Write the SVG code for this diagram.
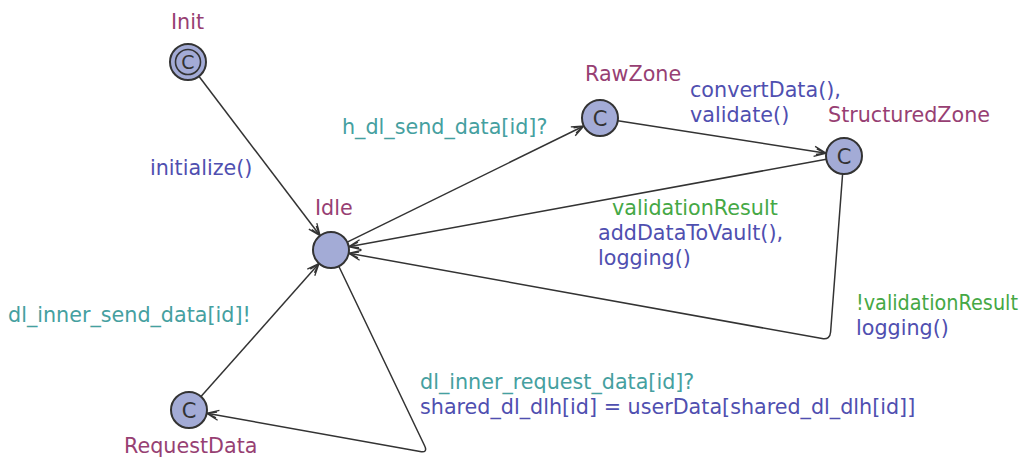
<svg xmlns="http://www.w3.org/2000/svg" width="1029" height="458" viewBox="0 0 1029 458">
<style>
text{font-family:"DejaVu Sans",sans-serif;font-size:20.7px}
.loc{fill:#a3abd6;stroke:#333;stroke-width:2}
.c{fill:#333;text-anchor:middle;font-size:21px}
.name{fill:#973f73}
.sync{fill:#45a0a0}
.upd{fill:#4f4fb0}
.grd{fill:#45a845}
.edge{fill:none;stroke:#333;stroke-width:1.5;marker-end:url(#arr)}
</style>
<defs>
<marker id="arr" markerWidth="16" markerHeight="12" refX="13" refY="6" orient="auto" markerUnits="userSpaceOnUse">
<path d="M1,1 L13,6 L1,11 M3,3.2 L12,6 L3,8.8" fill="none" stroke="#333" stroke-width="1.3"/>
</marker>
</defs>
<g id="connectors">
<path class="edge" d="M198.9,76.3 L320.1,235.7"/>
<path class="edge" d="M347.2,242.1 L583.8,126"/>
<path class="edge" d="M617.8,120.8 L826.2,153.2"/>
<path class="edge" d="M826.3,159.2 L348.7,246.8"/>
<path class="edge" d="M842.6,174 L830.6,332 Q830,340 822.1,338.6 L348.7,253.2"/>
<path class="edge" d="M201,396.5 L319,263.5"/>
<path class="edge" d="M338.8,266.2 L424.6,445.8 Q428,453 420.1,451.6 L206.7,413.2"/>
</g>
<g id="labels">
<text class="upd" x="150" y="175">initialize()</text>
<text class="sync" x="342" y="134">h_dl_send_data[id]?</text>
<text class="upd" x="690" y="97">convertData(),</text>
<text class="upd" x="690" y="122">validate()</text>
<text class="grd" x="612" y="215">validationResult</text>
<text class="upd" x="598" y="240">addDataToVault(),</text>
<text class="upd" x="598" y="265">logging()</text>
<text class="grd" x="856" y="310" textLength="162" lengthAdjust="spacingAndGlyphs">!validationResult</text>
<text class="upd" x="856" y="335">logging()</text>
<text class="sync" x="8" y="322">dl_inner_send_data[id]!</text>
<text class="sync" x="420" y="389">dl_inner_request_data[id]?</text>
<text class="upd" x="420" y="414">shared_dl_dlh[id] = userData[shared_dl_dlh[id]]</text>
</g>
<g id="Init">
<circle class="loc" cx="188" cy="62" r="18"/>
<circle cx="188" cy="62" r="12.5" fill="none" stroke="#333" stroke-width="1.6"/>
<text class="c" x="188" y="69" style="font-size:19px">C</text>
<text class="name" x="171" y="29">Init</text>
</g>
<g id="Idle">
<circle class="loc" cx="331" cy="250" r="18"/>
<text class="name" x="315" y="215">Idle</text>
</g>
<g id="RawZone">
<circle class="loc" cx="600" cy="118" r="18"/>
<text class="c" x="600" y="125.5">C</text>
<text class="name" x="585" y="81">RawZone</text>
</g>
<g id="StructuredZone">
<circle class="loc" cx="844" cy="156" r="18"/>
<text class="c" x="844" y="163.5">C</text>
<text class="name" x="828" y="122">StructuredZone</text>
</g>
<g id="RequestData">
<circle class="loc" cx="189" cy="410" r="18"/>
<text class="c" x="189" y="417.5">C</text>
<text class="name" x="124" y="453">RequestData</text>
</g>
</svg>
